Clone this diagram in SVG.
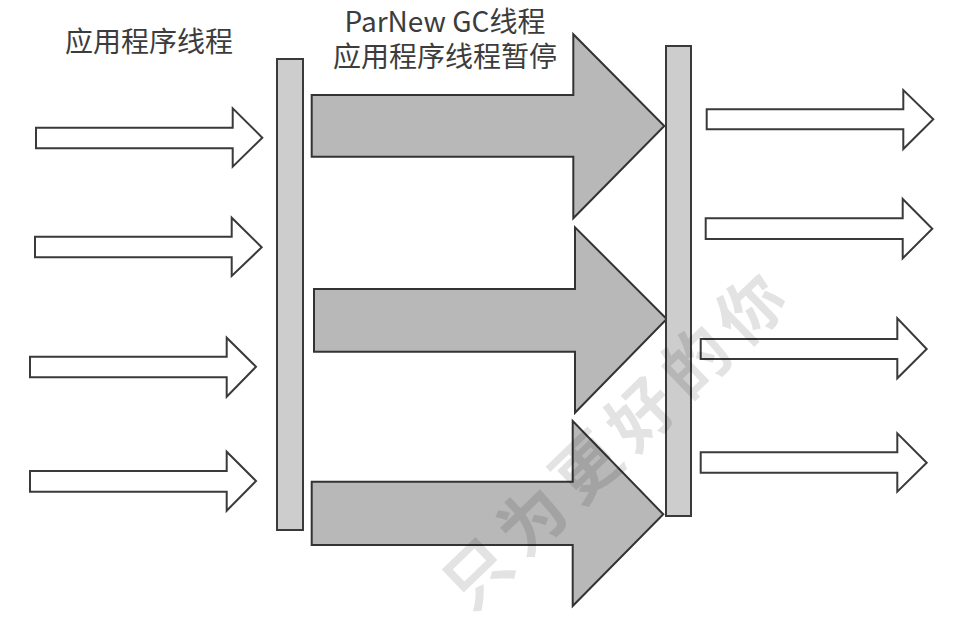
<svg xmlns="http://www.w3.org/2000/svg" width="959" height="630" viewBox="0 0 959 630">
<style>
.small{fill:#ffffff;stroke:#3a3a3a;stroke-width:2;stroke-linejoin:miter}
.big{fill:#b8b8b8;stroke:#333333;stroke-width:2;stroke-linejoin:miter}
.bar{fill:#cdcdcd;stroke:#3a3a3a;stroke-width:2}
.lbl{font-family:"Noto Sans CJK SC","Noto Sans",sans-serif;font-size:28px;fill:#3c3c3c}
.wm{font-family:"Noto Sans CJK SC",sans-serif;font-size:66px;font-weight:700;fill:#000;fill-opacity:0.11}
</style>
<rect width="959" height="630" fill="#ffffff"/>
<g id="labels">
<text class="lbl" x="149" y="52" text-anchor="middle">应用程序线程</text>
<text class="lbl" x="445" y="32" text-anchor="middle">ParNew GC线程</text>
<text class="lbl" x="445" y="67" text-anchor="middle">应用程序线程暂停</text>
</g>
<g id="app-threads-in">
<polygon class="small" points="36,127.7 232.7,127.7 232.7,108.3 262.3,137.7 232.7,166.7 232.7,148.3 36,148.3"/>
<polygon class="small" points="35,236.7 231.7,236.7 231.7,217.7 261.7,247.3 231.7,276 231.7,257.3 35,257.3"/>
<polygon class="small" points="30,356.7 226.7,356.7 226.7,337.7 256,366.7 226.7,396.7 226.7,377.3 30,377.3"/>
<polygon class="small" points="30,471 226.7,471 226.7,451.7 256,481 226.7,510.7 226.7,491.7 30,491.7"/>
</g>
<g id="barrier-start"><rect class="bar" x="277" y="59" width="26" height="471"/></g>
<g id="gc-threads">
<polygon class="big" points="311.7,95 573.3,95 573.3,34.3 664.3,126 573.3,218.3 573.3,156.7 311.7,156.7"/>
<polygon class="big" points="314,289 575,289 575,227.3 666.7,319 575,412.7 575,351.7 314,351.7"/>
<polygon class="big" points="311.7,481.7 572.7,481.7 572.7,421 663.3,514.3 572.7,606 572.7,545 311.7,545"/>
</g>
<g id="barrier-end"><rect class="bar" x="666" y="46" width="25" height="470"/></g>
<g id="app-threads-out">
<polygon class="small" points="706.7,109.3 903.3,109.3 903.3,90 933.3,119.3 903.3,149 903.3,129.3 706.7,129.3"/>
<polygon class="small" points="705.7,218.3 902.7,218.3 902.7,199 932.3,228.7 902.7,258.3 902.7,239 705.7,239"/>
<polygon class="small" points="700.7,339 897.3,339 897.3,318.3 926.7,349 897.3,378.3 897.3,359 700.7,359"/>
<polygon class="small" points="700.7,452.3 897.3,452.3 897.3,433.3 926.7,462.7 897.3,491.7 897.3,472.7 700.7,472.7"/>
</g>
<g id="watermark">
<text class="wm" x="0" y="0" text-anchor="middle" dominant-baseline="central" letter-spacing="10" transform="translate(614,434) rotate(-44)">只为更好的你</text>
</g>
</svg>
